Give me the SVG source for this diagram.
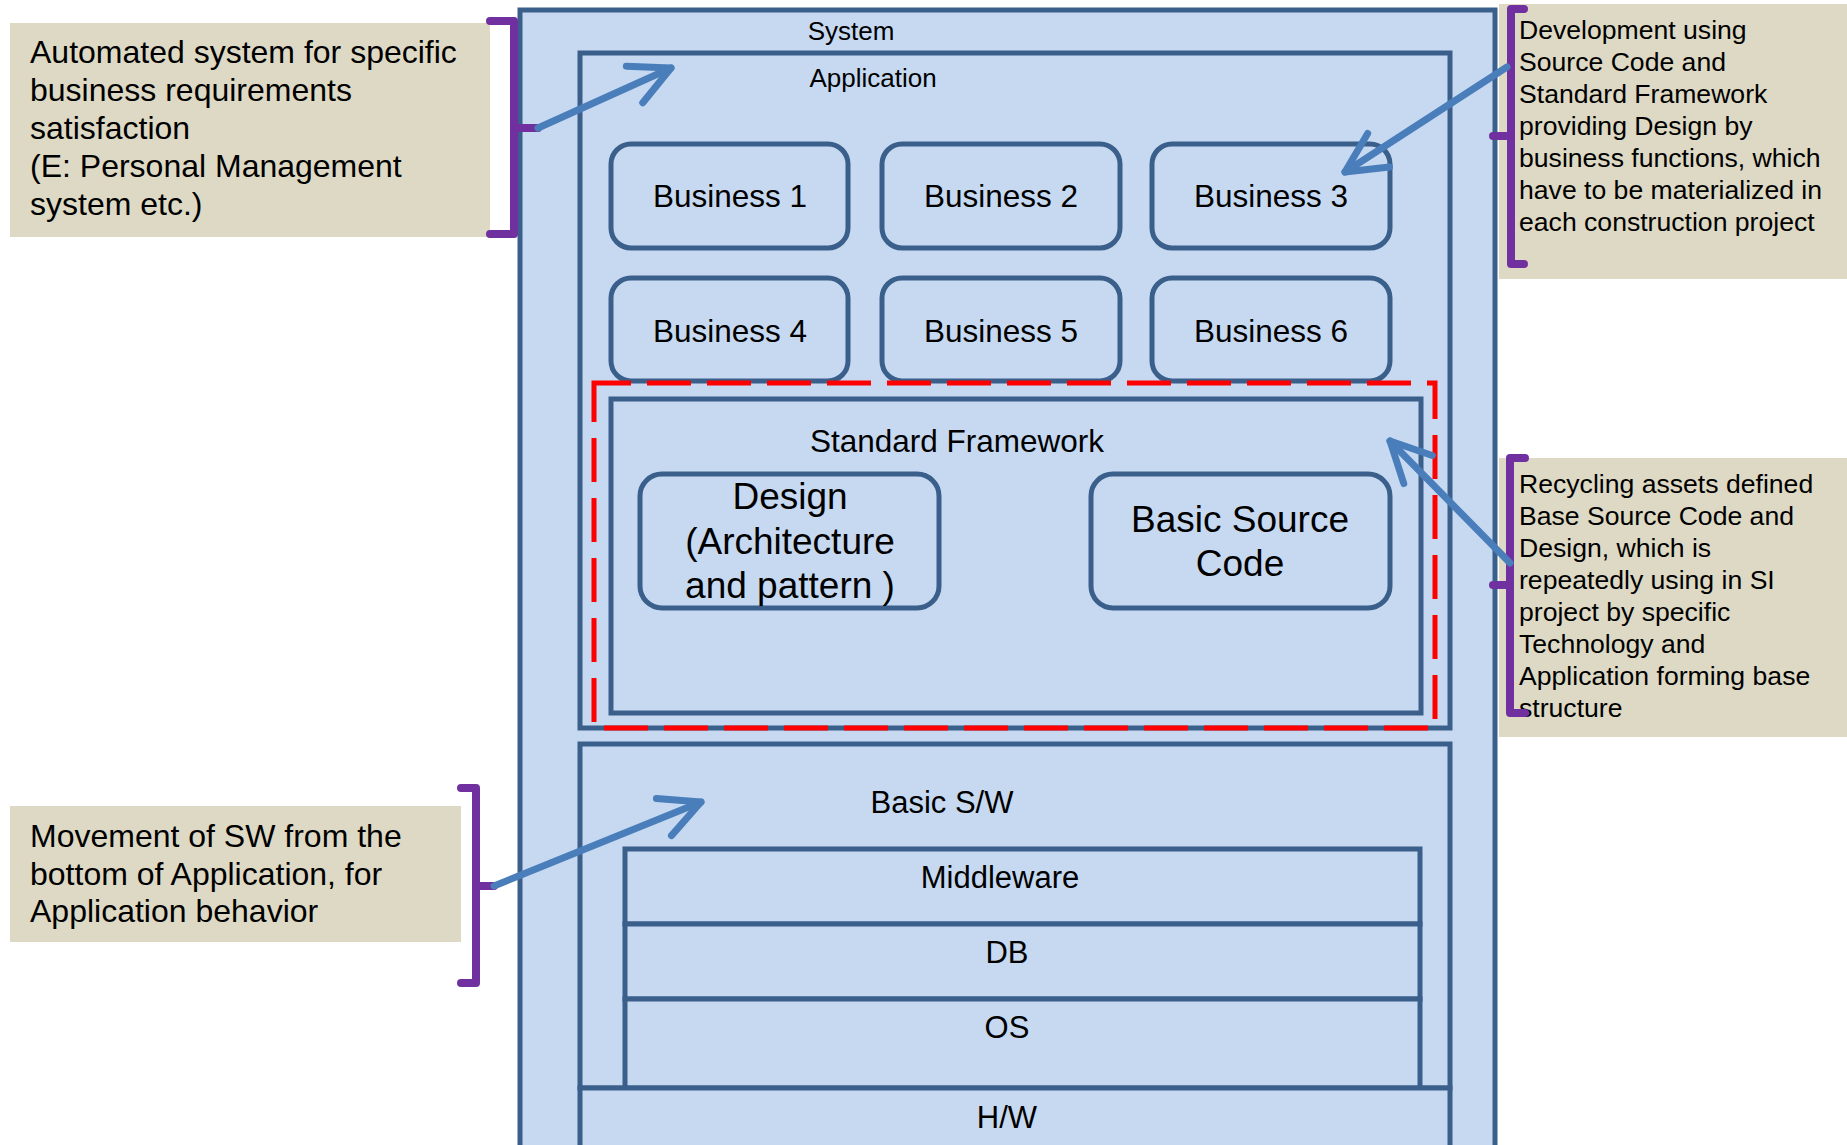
<svg xmlns="http://www.w3.org/2000/svg" width="1847" height="1145" viewBox="0 0 1847 1145">
<style>
.box{fill:#C6D9F1;stroke:#3A5F8B;stroke-width:5}
.note{fill:#DDD9C4;stroke:none}
.br{fill:none;stroke:#7030A0;stroke-width:8;stroke-linecap:round;stroke-linejoin:round}
.arr{fill:none;stroke:#4A7EBB;stroke-width:7;stroke-linecap:round;marker-end:url(#arrow)}
.red{fill:none;stroke:#FF0000;stroke-width:5;stroke-dasharray:44 16;stroke-dashoffset:7}
text{font-family:"Liberation Sans",Arial,sans-serif;fill:#000}
.c{text-anchor:middle}
.nl{font-size:32px}
.nr{font-size:26.6px}
.lbl{font-size:26px}
.biz{font-size:31.5px}
.big{font-size:37px}
.sw{font-size:31px}
</style>
<defs>
<marker id="arrow" markerUnits="userSpaceOnUse" markerWidth="60" markerHeight="60" viewBox="-50 -30 60 60" refX="0" refY="0" orient="auto" overflow="visible">
<path d="M-40,-20 L0,0 L-40,20" fill="none" stroke="#4A7EBB" stroke-width="7" stroke-linecap="round" stroke-linejoin="round"/>
</marker>
</defs>
<rect width="1847" height="1145" fill="#FFFFFF"/>

<g id="system">
<rect class="box" x="520" y="10" width="975" height="1200"/>
<text class="lbl c" x="851" y="40">System</text>
</g>

<g id="application">
<rect class="box" x="580" y="53" width="870" height="675"/>
<text class="lbl c" x="873" y="87">Application</text>
</g>

<g id="business1"><rect class="box" x="611" y="144" width="237" height="104" rx="20"/><text class="biz c" x="730" y="207">Business 1</text></g>
<g id="business2"><rect class="box" x="882" y="144" width="238" height="104" rx="20"/><text class="biz c" x="1001" y="207">Business 2</text></g>
<g id="business3"><rect class="box" x="1152" y="144" width="238" height="104" rx="20"/><text class="biz c" x="1271" y="207">Business 3</text></g>
<g id="business4"><rect class="box" x="611" y="278" width="237" height="103" rx="20"/><text class="biz c" x="730" y="342">Business 4</text></g>
<g id="business5"><rect class="box" x="882" y="278" width="238" height="103" rx="20"/><text class="biz c" x="1001" y="342">Business 5</text></g>
<g id="business6"><rect class="box" x="1152" y="278" width="238" height="103" rx="20"/><text class="biz c" x="1271" y="342">Business 6</text></g>

<g id="standard-framework">
<rect class="box" x="611" y="399" width="810" height="314"/>
<text class="biz c" x="957" y="452">Standard Framework</text>
</g>

<g id="design">
<rect class="box" x="640" y="474" width="299" height="134" rx="22"/>
<text class="big c" x="790" y="509">Design</text>
<text class="big c" x="790" y="554">(Architecture</text>
<text class="big c" x="790" y="598">and pattern )</text>
</g>

<g id="basic-source-code">
<rect class="box" x="1091" y="474" width="299" height="134" rx="22"/>
<text class="big c" x="1240" y="532">Basic Source</text>
<text class="big c" x="1240" y="576">Code</text>
</g>

<g id="framework-highlight">
<rect class="red" x="594" y="383" width="841" height="345"/>
</g>

<g id="basic-sw">
<rect class="box" x="580" y="744" width="870" height="344"/>
<text class="sw c" x="942" y="813">Basic S/W</text>
</g>

<g id="middleware"><rect class="box" x="625" y="849" width="795" height="75"/><text class="sw c" x="1000" y="888">Middleware</text></g>
<g id="db"><rect class="box" x="625" y="924" width="795" height="75"/><text class="sw c" x="1007" y="963">DB</text></g>
<g id="os"><rect class="box" x="625" y="999" width="795" height="89"/><text class="sw c" x="1007" y="1038">OS</text></g>

<g id="hw">
<rect class="box" x="580" y="1088" width="870" height="100"/>
<text class="sw c" x="1007" y="1128">H/W</text>
</g>

<g id="note-system">
<rect class="note" x="10" y="23" width="480" height="214"/>
<text class="nl" x="30" y="63">Automated system for specific</text>
<text class="nl" x="30" y="101">business requirements</text>
<text class="nl" x="30" y="139">satisfaction</text>
<text class="nl" x="30" y="177">(E: Personal Management</text>
<text class="nl" x="30" y="215">system etc.)</text>
<path class="br" d="M490,21 H514 V234 H490 M514,128 H538"/>
</g>

<g id="note-basicsw">
<rect class="note" x="10" y="806" width="451" height="136"/>
<text class="nl" x="30" y="847">Movement of SW from the</text>
<text class="nl" x="30" y="884.5">bottom of Application, for</text>
<text class="nl" x="30" y="922">Application behavior</text>
<path class="br" d="M461,788 H476 V983 H461 M476,886 H494"/>
</g>

<g id="note-business">
<rect class="note" x="1499" y="4" width="348" height="275"/>
<text class="nr" x="1519" y="39.3">Development using</text>
<text class="nr" x="1519" y="71.2">Source Code and</text>
<text class="nr" x="1519" y="103.1">Standard Framework</text>
<text class="nr" x="1519" y="135">providing Design by</text>
<text class="nr" x="1519" y="166.9">business functions, which</text>
<text class="nr" x="1519" y="198.8">have to be materialized in</text>
<text class="nr" x="1519" y="230.7">each construction project</text>
<path class="br" d="M1524,9 H1511 V264 H1524 M1511,136 H1493"/>
</g>

<g id="note-framework">
<rect class="note" x="1499" y="458" width="348" height="279"/>
<text class="nr" x="1519" y="493.3">Recycling assets defined</text>
<text class="nr" x="1519" y="525.3">Base Source Code and</text>
<text class="nr" x="1519" y="557.3">Design, which is</text>
<text class="nr" x="1519" y="589.3">repeatedly using in SI</text>
<text class="nr" x="1519" y="621.3">project by specific</text>
<text class="nr" x="1519" y="653.3">Technology and</text>
<text class="nr" x="1519" y="685.3">Application forming base</text>
<text class="nr" x="1519" y="717.3">structure</text>
<path class="br" d="M1525,458 H1510 V713 H1525 M1510,585 H1493"/>
</g>

<g id="connectors">
<line class="arr" x1="538" y1="128" x2="671" y2="68"/>
<line class="arr" x1="494" y1="886" x2="701" y2="802"/>
<line class="arr" x1="1507" y1="67" x2="1345" y2="172"/>
<line class="arr" x1="1510" y1="563" x2="1390" y2="441"/>
</g>
</svg>
